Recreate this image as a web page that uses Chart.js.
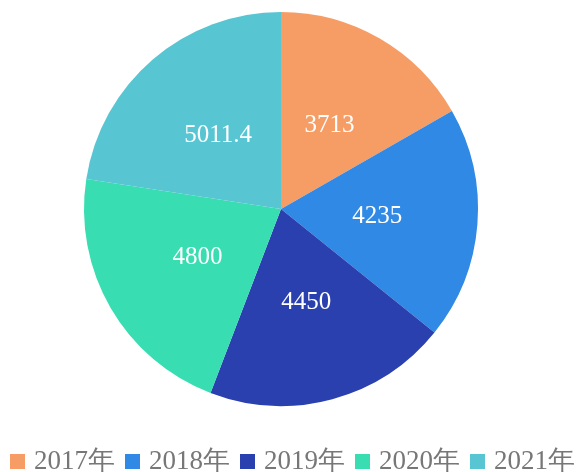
<!DOCTYPE html>
<html>
<head>
<meta charset="utf-8">
<script src="https://cdn.jsdelivr.net/npm/chart.js@4"></script>
<style>
  html, body { margin: 0; padding: 0; background: #fff; }
  #wrap { width: 579px; height: 472px; }
</style>
</head>
<body>
<div id="wrap"><canvas id="myChart" width="579" height="472"></canvas></div>
<script>
const labels = ['2017年', '2018年', '2019年', '2020年', '2021年'];
const values = [3713, 4235, 4450, 4800, 5011.4];
const colors = ['#F69D66', '#3089E4', '#2A40AE', '#38DDB1', '#57C5D2'];

const serif = '"Liberation Serif", "Times New Roman", serif';

// value labels in the middle of each slice
const sliceLabels = {
  id: 'sliceLabels',
  afterDatasetsDraw(chart) {
    const ctx = chart.ctx;
    const meta = chart.getDatasetMeta(0);
    ctx.save();
    ctx.fillStyle = '#fff';
    ctx.font = '25px ' + serif;
    ctx.textAlign = 'center';
    ctx.textBaseline = 'middle';
    meta.data.forEach((arc, i) => {
      const p = arc.getProps(['x', 'y', 'startAngle', 'endAngle', 'outerRadius'], true);
      const mid = (p.startAngle + p.endAngle) / 2;
      const r = p.outerRadius * 0.49;
      ctx.fillText(String(values[i]), p.x + Math.cos(mid) * r, p.y + Math.sin(mid) * r);
    });
    ctx.restore();
  }
};

// legend row under the pie
const bottomLegend = {
  id: 'bottomLegend',
  afterDraw(chart) {
    const ctx = chart.ctx;
    const ds = chart.data.datasets[0];
    const box = 15, gap = 9, spacing = 10;
    ctx.save();
    ctx.font = '27px ' + serif;
    ctx.textBaseline = 'alphabetic';
    const widths = chart.data.labels.map(l => ctx.measureText(l).width);
    const total = widths.reduce((s, w) => s + box + gap + w, 0) + spacing * (widths.length - 1);
    let x = 292.5 - total / 2;
    const base = 469;
    chart.data.labels.forEach((l, i) => {
      ctx.fillStyle = ds.backgroundColor[i];
      ctx.fillRect(x, base - 15, box, box);
      x += box + gap;
      ctx.fillStyle = '#777';
      ctx.fillText(l, x, base);
      x += widths[i] + spacing;
    });
    ctx.restore();
  }
};

new Chart(document.getElementById('myChart').getContext('2d'), {
  type: 'pie',
  data: {
    labels: labels,
    datasets: [{
      data: values,
      backgroundColor: colors,
      borderWidth: 0
    }]
  },
  options: {
    responsive: false,
    animation: false,
    layout: { padding: { top: 12, left: 0, right: 17, bottom: 66 } },
    plugins: {
      legend: { display: false },
      tooltip: { enabled: false }
    }
  },
  plugins: [sliceLabels, bottomLegend]
});
</script>
</body>
</html>
